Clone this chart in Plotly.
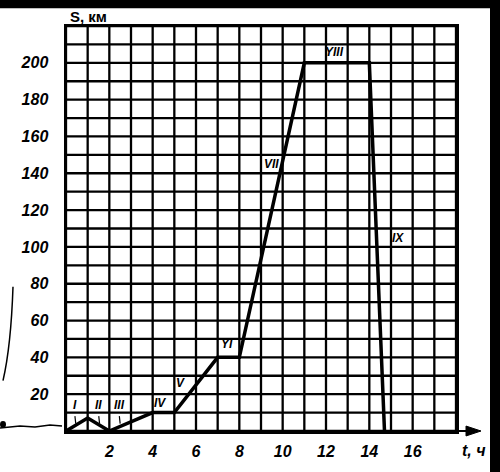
import plotly.graph_objects as go

# data
t_hours = [0, 1, 2, 4, 5, 7, 8, 11, 14, 14.7]
s_km = [0, 7, 0, 10, 10, 40, 40, 200, 200, 0]

x_ticks = [2, 4, 6, 8, 10, 12, 14, 16]
y_ticks = [20, 40, 60, 80, 100, 120, 140, 160, 180, 200]

seg_labels = ["I", "II", "III", "IV", "V", "YI", "VII", "YIII", "IX"]
seg_x = [0.4, 1.5, 2.45, 4.35, 5.3, 7.45, 9.5, 12.4, 15.3]
seg_y = [14, 14, 14, 15, 26, 47, 145, 206, 105]

W, H = 500, 472
L, R, T, B = 66, 456, 26, 436

def px(x):
    return (x - L) / (R - L)

def py(y):
    return (B - y) / (B - T)

fig = go.Figure()
fig.add_trace(go.Scatter(x=t_hours, y=s_km, mode="lines",
                         line=dict(color="black", width=3.5),
                         hoverinfo="skip", showlegend=False))

lab_font = dict(family="Liberation Sans", size=12, color="black", style="italic", weight="bold")
for lbl, xx, yy in zip(seg_labels, seg_x, seg_y):
    fig.add_annotation(x=xx, y=yy, text=lbl, showarrow=False, font=lab_font)

# small pointer marks under I, II, III
for xx, yy in zip(seg_x[:3], seg_y[:3]):
    fig.add_annotation(x=xx + 0.05, y=yy - 10, ax=-1, ay=-9, axref="pixel", ayref="pixel",
                       text="", showarrow=True, arrowhead=0, arrowwidth=1.2, arrowcolor="black")

tick_font = dict(family="Liberation Sans", size=16, color="black", style="italic", weight="bold")

fig.update_xaxes(range=[0, 18], tickmode="array", tickvals=x_ticks,
                 ticktext=[str(v) for v in x_ticks], tickfont=tick_font,
                 showgrid=False, ticklabelstandoff=4,
                 showline=True, linecolor="black", linewidth=2.5, mirror=True,
                 ticks="", zeroline=False, fixedrange=True)
fig.update_yaxes(range=[0, 220], tickmode="array", tickvals=y_ticks,
                 ticktext=[str(v) for v in y_ticks], tickfont=tick_font,
                 showgrid=False, ticklabelstandoff=12,
                 showline=True, linecolor="black", linewidth=2.5, mirror=True,
                 ticks="", zeroline=False, fixedrange=True)

# grid every 1 h and every 10 km
shapes = []
for i in range(0, 19):
    shapes.append(dict(type="line", xref="x", yref="paper", x0=i, x1=i, y0=0, y1=1,
                       line=dict(color="black", width=2.3), layer="below"))
for j in range(0, 221, 10):
    shapes.append(dict(type="line", xref="paper", yref="y", x0=0, x1=1, y0=j, y1=j,
                       line=dict(color="black", width=2.3), layer="below"))

# black scan borders
shapes.append(dict(type="rect", xref="paper", yref="paper", x0=px(0), x1=px(W + 20),
                   y0=py(8), y1=py(-10), fillcolor="black", line=dict(width=0), layer="above"))
shapes.append(dict(type="rect", xref="paper", yref="paper", x0=px(490), x1=px(W + 20),
                   y0=py(H + 10), y1=py(-10), fillcolor="black", line=dict(width=0), layer="above"))
# scan artifacts at left
shapes.append(dict(type="path", xref="paper", yref="paper",
                   path=f"M {px(0)},{py(433)} L {px(20)},{py(431)} L {px(35)},{py(432)} L {px(50)},{py(430)} L {px(62)},{py(431)}",
                   line=dict(color="black", width=1.5)))
shapes.append(dict(type="path", xref="paper", yref="paper",
                   path=f"M {px(13)},{py(290)} Q {px(11)},{py(350)} {px(3)},{py(385)}",
                   line=dict(color="black", width=1.5)))
shapes.append(dict(type="circle", xref="paper", yref="paper",
                   x0=px(0), x1=px(6), y0=py(433), y1=py(426), fillcolor="black", line=dict(width=0)))
# x-axis arrow
shapes.append(dict(type="line", xref="paper", yref="paper", x0=px(456), x1=px(478),
                   y0=py(436), y1=py(436), line=dict(color="black", width=2)))
shapes.append(dict(type="path", xref="paper", yref="paper",
                   path=f"M {px(466)},{py(431)} L {px(481)},{py(436)} L {px(466)},{py(441)} Z",
                   fillcolor="black", line=dict(color="black", width=1)))

fig.update_layout(shapes=shapes)

# axis titles
fig.add_annotation(xref="paper", yref="paper", x=px(68), y=py(16), text="S, км",
                   showarrow=False, xanchor="left", yanchor="middle",
                   font=dict(family="Liberation Sans", size=15, color="black", weight="bold"))
fig.add_annotation(xref="paper", yref="paper", x=px(474), y=py(456), text="t, ч",
                   showarrow=False, xanchor="center", yanchor="middle",
                   font=dict(family="Liberation Sans", size=16, color="black", style="italic", weight="bold"))

fig.update_layout(width=W, height=H, margin=dict(l=L, r=W - R, t=T, b=H - B),
                  paper_bgcolor="white", plot_bgcolor="white", showlegend=False)

fig.write_html("out.html", config={"displayModeBar": False, "staticPlot": True},
               post_script="document.body.style.margin='0';document.body.style.overflow='hidden';")
